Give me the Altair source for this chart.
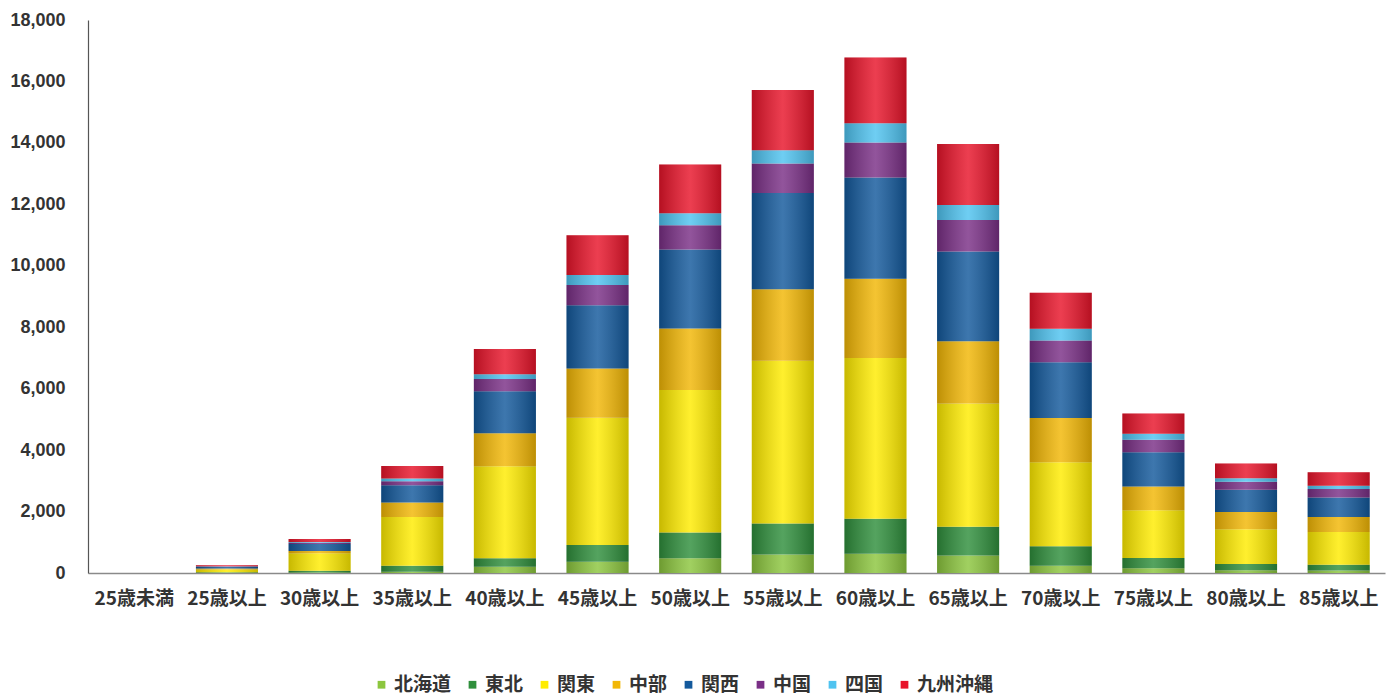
import altair as alt
import pandas as pd

ages = ["25歳未満", "25歳以上", "30歳以上", "35歳以上", "40歳以上", "45歳以上", "50歳以上",
        "55歳以上", "60歳以上", "65歳以上", "70歳以上", "75歳以上", "80歳以上", "85歳以上"]
regions = ["北海道", "東北", "関東", "中部", "関西", "中国", "四国", "九州沖縄"]
colors = ["#8cc63e", "#2f8f3c", "#ffec00", "#f2b705", "#13599c", "#7a2f86", "#4fc3f0", "#e8142a"]

hokkaido = [0, 8, 20, 42, 204, 367, 477, 603, 626, 571, 240, 152, 90, 80]
tohoku = [0, 15, 55, 195, 273, 541, 843, 1012, 1139, 931, 632, 338, 205, 192]
kanto = [0, 90, 564, 1589, 2994, 4142, 4638, 5291, 5231, 4015, 2732, 1553, 1126, 1061]
chubu = [0, 35, 75, 467, 1080, 1609, 1999, 2332, 2582, 2024, 1443, 776, 567, 490]
kansai = [0, 45, 227, 561, 1362, 2056, 2575, 3127, 3299, 2923, 1813, 1112, 720, 636]
chugoku = [0, 15, 40, 130, 398, 659, 788, 966, 1135, 1025, 710, 406, 263, 272]
shikoku = [0, 8, 24, 88, 162, 324, 389, 432, 626, 489, 383, 198, 110, 110]
kyushu = [0, 35, 98, 408, 821, 1298, 1590, 1955, 2138, 1989, 1168, 655, 480, 440]

series = [hokkaido, tohoku, kanto, chubu, kansai, chugoku, shikoku, kyushu]

rows = []
for ri, (reg, vals) in enumerate(zip(regions, series)):
    for age, v in zip(ages, vals):
        rows.append({"age": age, "region": reg, "value": v, "order": ri})
df = pd.DataFrame(rows)

totals = pd.DataFrame({"age": ages, "total": [sum(s[i] for s in series) for i in range(len(ages))]})

x_enc = alt.X("age:N", sort=ages, title=None,
              scale=alt.Scale(paddingInner=0.33, paddingOuter=0.165),
              axis=alt.Axis(labelAngle=0, labelFontSize=19, labelColor="#333333",
                            labelFont="Noto Sans CJK JP", labelFontWeight="bold",
                            ticks=False, domainColor="#8a8a8a", domainWidth=1.5,
                            labelPadding=16))

y_scale = alt.Scale(domain=[0, 18000], nice=False)

bars = alt.Chart(df).mark_bar().encode(
    x=x_enc,
    y=alt.Y("value:Q", stack="zero", scale=y_scale, title=None,
            axis=alt.Axis(values=list(range(0, 18001, 2000)), format=",.0f", grid=False,
                          ticks=False, labelFontSize=18, labelColor="#333333",
                          labelFont="Liberation Sans", labelFontWeight="bold",
                          labelPadding=23, domainColor="#555555", domainWidth=1.2)),
    color=alt.Color("region:N", scale=alt.Scale(domain=regions, range=colors),
                    legend=alt.Legend(title=None, orient="none", direction="horizontal",
                                      legendX=284, legendY=655, symbolType="square",
                                      symbolSize=60, symbolStrokeWidth=0,
                                      labelFontSize=19, labelFont="Noto Sans CJK JP",
                                      labelFontWeight="bold", labelColor="#333333",
                                      labelOffset=3, columnPadding=11, padding=0)),
    order=alt.Order("order:Q", sort="ascending"),
)

shade = alt.Chart(totals).mark_bar(
    fill=alt.Gradient(
        gradient="linear", x1=0, x2=1, y1=0, y2=0,
        stops=[alt.GradientStop(offset=0, color="rgba(0,0,0,0.22)"),
               alt.GradientStop(offset=0.5, color="rgba(255,255,255,0.18)"),
               alt.GradientStop(offset=1, color="rgba(0,0,0,0.22)")])
).encode(
    x=alt.X("age:N", sort=ages),
    y=alt.Y("total:Q", scale=y_scale),
)

chart = alt.layer(bars, shade).properties(
    width=1297, height=553,
    background="white",
    autosize=alt.AutoSizeParams(type="none"),
    padding={"left": 88, "top": 20, "right": 4, "bottom": 126},
).configure_view(stroke="transparent", strokeWidth=0)

chart.save("out.html", embed_options={"renderer": "svg", "actions": False})
